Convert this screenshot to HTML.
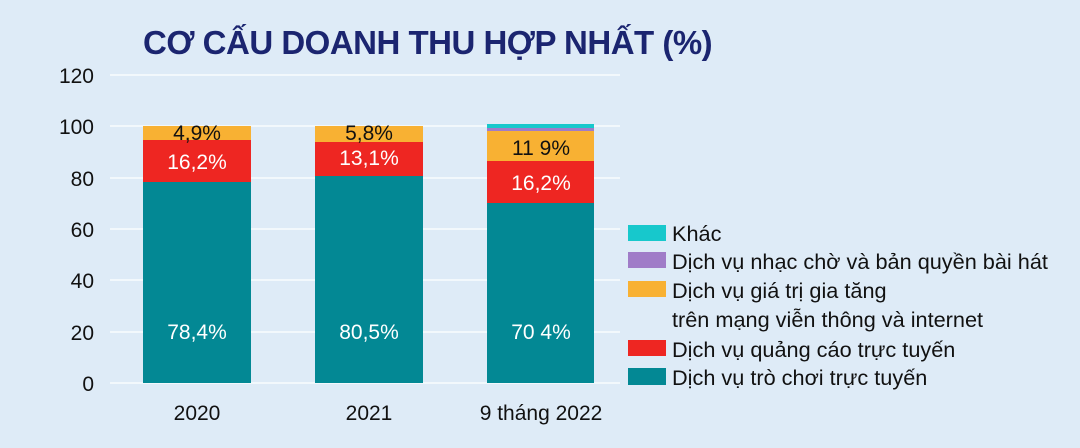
<!DOCTYPE html>
<html><head><meta charset="utf-8"><style>
body{margin:0;width:1080px;height:448px;background:#deebf7;font-family:"Liberation Sans",sans-serif;overflow:hidden;position:relative}
.a{position:absolute}
</style></head><body>
<div class="a" style="left:143px;top:24px;font-size:33px;font-weight:bold;color:#1b2570;letter-spacing:-0.5px;white-space:nowrap">CƠ CẤU DOANH THU HỢP NHẤT (%)</div>
<svg class="a" style="left:0;top:0" width="1080" height="448">
<g stroke="#ffffff" stroke-width="1.2">
<line x1="110" x2="620" y1="75" y2="75"/><line x1="110" x2="620" y1="126" y2="126"/>
<line x1="110" x2="620" y1="178" y2="178"/><line x1="110" x2="620" y1="229" y2="229"/>
<line x1="110" x2="620" y1="280" y2="280"/><line x1="110" x2="620" y1="332" y2="332"/>
<line x1="110" x2="620" y1="383" y2="383"/>
</g>
<g font-size="21" fill="#111" text-anchor="end" font-family="Liberation Sans">
<text x="94" y="83">120</text><text x="94" y="134">100</text><text x="94" y="186">80</text>
<text x="94" y="237">60</text><text x="94" y="288">40</text><text x="94" y="340">20</text><text x="94" y="391">0</text>
</g>
<rect x="143" y="182" width="108" height="201" fill="#038894"/>
<rect x="143" y="140" width="108" height="42" fill="#ee2622"/>
<rect x="143" y="126" width="108" height="14" fill="#f8b133"/>
<rect x="315" y="176" width="108" height="207" fill="#038894"/>
<rect x="315" y="142" width="108" height="34" fill="#ee2622"/>
<rect x="315" y="126" width="108" height="16" fill="#f8b133"/>
<rect x="487" y="203" width="107" height="180" fill="#038894"/>
<rect x="487" y="161" width="107" height="42" fill="#ee2622"/>
<rect x="487" y="131" width="107" height="30" fill="#f8b133"/>
<rect x="487" y="128" width="107" height="3" fill="#a07cc8"/>
<rect x="487" y="124" width="107" height="4" fill="#17c8cc"/>
<g font-size="21" text-anchor="middle" font-family="Liberation Sans">
<text x="197" y="140" fill="#111">4,9%</text><text x="197" y="169" fill="#fff">16,2%</text><text x="197" y="339" fill="#fff">78,4%</text>
<text x="369" y="140" fill="#111">5,8%</text><text x="369" y="165" fill="#fff">13,1%</text><text x="369" y="339" fill="#fff">80,5%</text>
<text x="541" y="155" fill="#111">11 9%</text><text x="541" y="190" fill="#fff">16,2%</text><text x="541" y="339" fill="#fff">70 4%</text>
<text x="197" y="420" fill="#111">2020</text><text x="369" y="420" fill="#111">2021</text><text x="541" y="420" fill="#111">9 tháng 2022</text>
</g>
<rect x="628" y="225" width="38" height="16" fill="#17c8cc"/>
<rect x="628" y="252" width="38" height="16" fill="#a07cc8"/>
<rect x="628" y="281" width="38" height="16" fill="#f8b133"/>
<rect x="628" y="340" width="38" height="16" fill="#ee2622"/>
<rect x="628" y="368" width="38" height="17" fill="#038894"/>
<g font-size="21.7" fill="#111" font-family="Liberation Sans">
<text x="672" y="241">Khác</text>
<text x="672" y="269">Dịch vụ nhạc chờ và bản quyền bài hát</text>
<text x="672" y="298">Dịch vụ giá trị gia tăng</text>
<text x="672" y="327">trên mạng viễn thông và internet</text>
<text x="672" y="357">Dịch vụ quảng cáo trực tuyến</text>
<text x="672" y="385">Dịch vụ trò chơi trực tuyến</text>
</g>
</svg>
</body></html>
